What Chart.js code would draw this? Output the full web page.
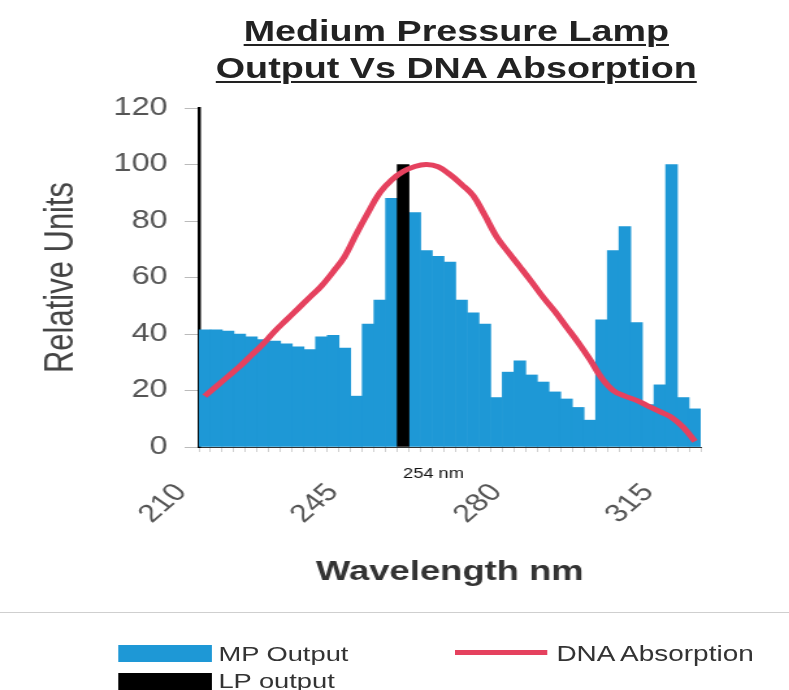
<!DOCTYPE html>
<html>
<head>
<meta charset="utf-8">
<script src="https://cdn.jsdelivr.net/npm/chart.js@4.4.1/dist/chart.umd.min.js"></script>
<style>
html, body { margin: 0; padding: 0; background: #fff; overflow: hidden; }
/* the original picture is stretched sideways, so the whole stage is too */
#stage { position: absolute; left: 0; top: 0; width: 607px; height: 690px;
  transform: scaleX(1.3); transform-origin: 0 0;
  font-family: "Liberation Sans", Arial, sans-serif; }
#box { position: absolute; left: 0; top: 0; width: 607px; height: 690px; }
#title { position: absolute; left: 0; top: 13px; width: 702px; text-align: center;
  font-weight: bold; font-size: 29px; line-height: 37px; color: #222;
  text-decoration: underline; text-decoration-thickness: 2px; text-underline-offset: 3px; }
#sep { position: absolute; left: 0; top: 612px; width: 607px; border-top: 1px solid #cfcfcf; }
.sw { position: absolute; }
.lg { position: absolute; font-size: 21px; line-height: 22px; color: #333; white-space: nowrap; }
</style>
</head>
<body>
<div id="stage">
  <div id="box"><canvas id="chart"></canvas></div>
  <div id="title">Medium Pressure Lamp<br>Output Vs DNA Absorption</div>
  <div id="sep"></div>
  <div class="sw" style="left:91px;top:645px;width:72px;height:17px;background:#1e98d6"></div>
  <div class="lg" style="left:168px;top:643px">MP Output</div>
  <div class="sw" style="left:350px;top:650px;width:71px;height:5px;background:#e5415e"></div>
  <div class="lg" style="left:428px;top:643px;font-size:21.5px">DNA Absorption</div>
  <div class="sw" style="left:91px;top:673px;width:72px;height:17px;background:#000"></div>
  <div class="lg" style="left:168px;top:670px">LP output</div>
</div>
<script>
const wavelengths = ["210","213","216","218","221","224","226","229","232","234",
  "237","240","242","245","247","250","252","254","257","260",
  "262","265","267","270","273","275","278","280","283","286",
  "288","291","294","297","299","302","305","307","310","312",
  "315","318","320"];
const mpOutput = [41.5, 41.5, 41, 40, 39, 38, 37.5, 36.5, 35.5, 34.5,
  39, 39.5, 35, 18, 43.5, 52, 88, null, 83, 69.5,
  67.5, 65.5, 52, 47.5, 43.5, 17.5, 26.5, 30.5, 25.5, 23,
  19.5, 17, 14, 9.5, 45, 69.5, 78, 44, 15, 22,
  100, 17.5, 13.5];
const lpOutput = [null, null, null, null, null, null, null, null, null, null,
  null, null, null, null, null, null, null, 100, null, null,
  null, null, null, null, null, null, null, null, null, null,
  null, null, null, null, null, null, null, null, null, null,
  null, null, null];
const dnaAbsorption = [18, 21.5, 25, 28.5, 32.5, 36.5, 41, 45, 49, 53,
  57, 62, 67.5, 75.5, 83, 90, 94.5, 97.5, 99.3, 100,
  99.2, 96.5, 93, 89, 82, 74.5, 69, 63.8, 58.5, 53,
  48, 42.5, 37, 31, 24.5, 20, 18, 16.5, 14.5, 12.5,
  10.5, 7, 2];
const tickLabels = ["210", "245", "280", "315"];

const FONT = '"Liberation Sans", Arial, sans-serif';

const lpLabel = {
  id: "lpLabel",
  afterDraw(chart){
    const xs = chart.scales.x;
    const x = xs.getPixelForValue(wavelengths.indexOf("254"));
    const c = chart.ctx;
    c.save();
    c.font = "14px " + FONT;
    c.fillStyle = "#111";
    c.textAlign = "left";
    c.textBaseline = "middle";
    c.fillText("254 nm", x, xs.top + 27);
    c.restore();
  }
};

new Chart(document.getElementById("chart"), {
  type: "bar",
  data: {
    labels: wavelengths,
    datasets: [
      { type: "line", label: "DNA Absorption", data: dnaAbsorption, order: 0,
        borderColor: "#e5415e", borderWidth: 5, pointRadius: 0, tension: .4, fill: false },
      { label: "LP output", data: lpOutput, order: 1, backgroundColor: "#000",
        barPercentage: 1, categoryPercentage: 1, grouped: false },
      { label: "MP Output", data: mpOutput, order: 2, backgroundColor: "#1e98d6",
        barPercentage: 1, categoryPercentage: 1, grouped: false }
    ]
  },
  options: {
    responsive: true,
    maintainAspectRatio: false,
    animation: false,
    layout: { padding: { left: 25, right: 68, top: 108, bottom: 97 } },
    plugins: { legend: { display: false }, tooltip: { enabled: false } },
    scales: {
      x: {
        grid: { drawOnChartArea: false, tickLength: 5, color: "#d0d0d0" },
        border: { color: "#333", width: 1 },
        ticks: {
          autoSkip: false, minRotation: 48, maxRotation: 48, padding: 26, labelOffset: -18,
          color: "#555", font: { size: 25, family: FONT },
          callback(v){ const l = this.getLabelForValue(v); return tickLabels.includes(l) ? l : ""; }
        },
        title: { display: true, text: "Wavelength nm", color: "#333",
          font: { size: 28, weight: "bold", family: FONT } },
        afterFit(s){ s.height = 146; }
      },
      y: {
        min: 0, max: 120,
        ticks: { stepSize: 20, padding: 13, color: "#555", font: { size: 25, family: FONT } },
        grid: { drawOnChartArea: false, tickLength: 11, color: "#bbb" },
        border: { color: "#000", width: 2.5 },
        title: { display: true, text: "Relative Units", color: "#444",
          font: { size: 31, family: FONT } },
        afterFit(s){ s.width = 128; }
      }
    }
  },
  plugins: [lpLabel]
});
</script>
</body>
</html>
